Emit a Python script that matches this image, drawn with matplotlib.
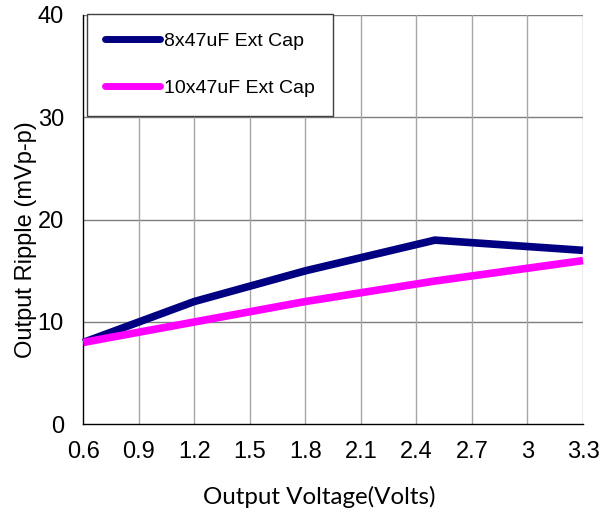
import numpy as np
import matplotlib
matplotlib.use('Agg')
import matplotlib.pyplot as plt

# data
v_8x = [0.6, 1.2, 1.8, 2.5, 3.3]
ripple_8x = [8, 12, 15, 18, 17]
v_10x = [0.6, 1.2, 1.8, 2.5, 3.3]
ripple_10x = [8, 10, 12, 14, 16]
x_ticks = [0.6, 0.9, 1.2, 1.5, 1.8, 2.1, 2.4, 2.7, 3.0, 3.3]
x_tick_labels = ['0.6', '0.9', '1.2', '1.5', '1.8', '2.1', '2.4', '2.7', '3', '3.3']
y_ticks = [0, 10, 20, 30, 40]

plt.rcParams['font.family'] = ['Liberation Sans', 'DejaVu Sans']

fig = plt.figure(figsize=(6.11, 5.13), dpi=100)
ax = fig.add_axes([83.3 / 611, 1 - 424.3 / 513, (583 - 83.3) / 611, (424.3 - 15) / 513])

ax.plot(v_8x, ripple_8x, color='#000080', lw=5.5, solid_capstyle='butt',
        solid_joinstyle='miter', label='8x47uF Ext Cap', zorder=3, clip_on=False)
ax.plot(v_10x, ripple_10x, color='#FF00FF', lw=5.5, solid_capstyle='butt',
        solid_joinstyle='miter', label='10x47uF Ext Cap', zorder=3, clip_on=False)

ax.set_xlim(0.6, 3.3)
ax.set_ylim(0, 40)
ax.set_xticks(x_ticks)
ax.set_xticklabels(x_tick_labels)
ax.set_yticks(y_ticks)

# grid: horizontal darker, vertical lighter
for y in y_ticks[1:]:
    ax.axhline(y, color='#7f7f7f', lw=1.0, zorder=1)
for x in x_ticks[1:]:
    ax.axvline(x, color='#a6a6a6', lw=1.0, zorder=1)

for s in ['top', 'right']:
    ax.spines[s].set_visible(False)
for s in ['left', 'bottom']:
    ax.spines[s].set_color('black')
    ax.spines[s].set_linewidth(1.0)

ax.tick_params(axis='both', length=0, labelsize=17, colors='black')
ax.tick_params(axis='x', pad=12)
ax.tick_params(axis='y', pad=14)

ax.set_ylabel('Output Ripple (mVp-p)', fontsize=17)
ax.yaxis.set_label_coords(-0.093, 0.45)
fig.text(0.522, 1 - 496.7 / 513, 'Output Voltage(Volts)', fontsize=17.4,
         family=['Lato', 'DejaVu Sans'], ha='center', va='center')

leg = ax.legend(loc='upper left', bbox_to_anchor=(3.4 / 499.7, 1 + 1 / 409.3),
                fontsize=14, frameon=True, fancybox=False, handlelength=2.8,
                handletextpad=0.2, labelspacing=1.52, borderpad=0.95,
                borderaxespad=0, framealpha=1)
leg.get_frame().set_edgecolor('#404040')
leg.get_frame().set_linewidth(1.0)
leg.set_zorder(5)
for line in leg.get_lines():
    line.set_solid_capstyle('round')
    line.set_linewidth(5)

plt.savefig('out.png', dpi=100)
